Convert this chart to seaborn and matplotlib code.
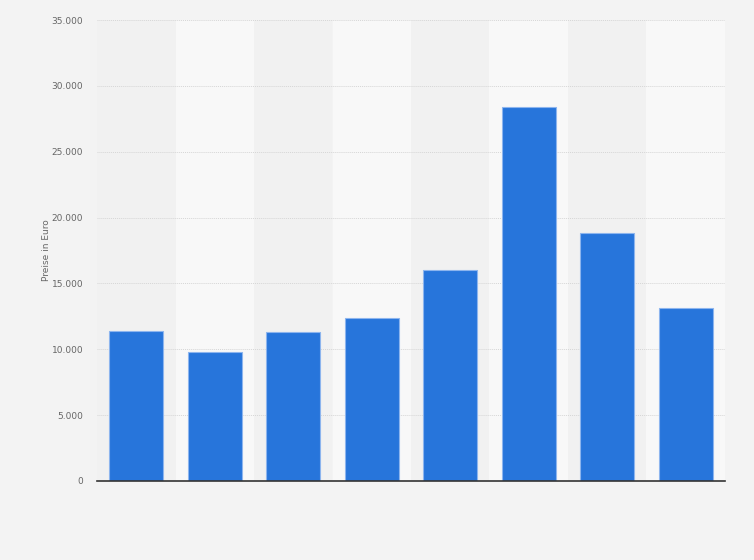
import pandas as pd
import matplotlib.pyplot as plt
import seaborn as sns

# Data
categories = ['1', '2', '3', '4', '5', '6', '7', '8']
prices = [11400, 9800, 11300, 12400, 16050, 28400, 18800, 13100]

df = pd.DataFrame({'category': categories, 'price': prices})

sns.set_style('white')
plt.rcParams['font.family'] = ['DejaVu Sans']

fig = plt.figure(figsize=(7.54, 5.6), dpi=100, facecolor='#f3f3f3')
ax = fig.add_axes([97 / 754, 1 - 481 / 560, 628 / 754, 461 / 560])
ax.set_facecolor('#f3f3f3')

# alternating column bands
for i in range(len(categories)):
    col = '#f1f1f1' if i % 2 == 0 else '#f8f8f8'
    ax.axvspan(i - 0.5, i + 0.5, color=col, zorder=0, lw=0)

sns.barplot(data=df, x='category', y='price', color='#2775db', saturation=1,
            width=0.69, edgecolor='#8db5ee', linewidth=0.8, ax=ax, zorder=3)

ax.set_xlim(-0.5, len(categories) - 0.5)
ax.set_ylim(0, 35000)
yticks = [0, 5000, 10000, 15000, 20000, 25000, 30000, 35000]
ax.set_yticks(yticks)
ax.set_yticklabels([f'{v:,}'.replace(',', '.') for v in yticks],
                   fontsize=6.5, color='#666666')
ax.tick_params(axis='y', length=0, pad=10)
ax.set_xticks([])
ax.set_xlabel('')
ax.set_ylabel('Preise in Euro', fontsize=6.5, color='#666666', labelpad=0)

ax.grid(axis='y', color='#d6d6d6', linestyle=(0, (1, 1)), linewidth=0.7, zorder=1)
ax.set_axisbelow(True)
for s in ['top', 'right', 'left']:
    ax.spines[s].set_visible(False)
ax.spines['bottom'].set_color('#333333')
ax.spines['bottom'].set_linewidth(1.2)
ax.spines['bottom'].set_zorder(5)

fig.savefig('out.png', dpi=100, facecolor=fig.get_facecolor())
